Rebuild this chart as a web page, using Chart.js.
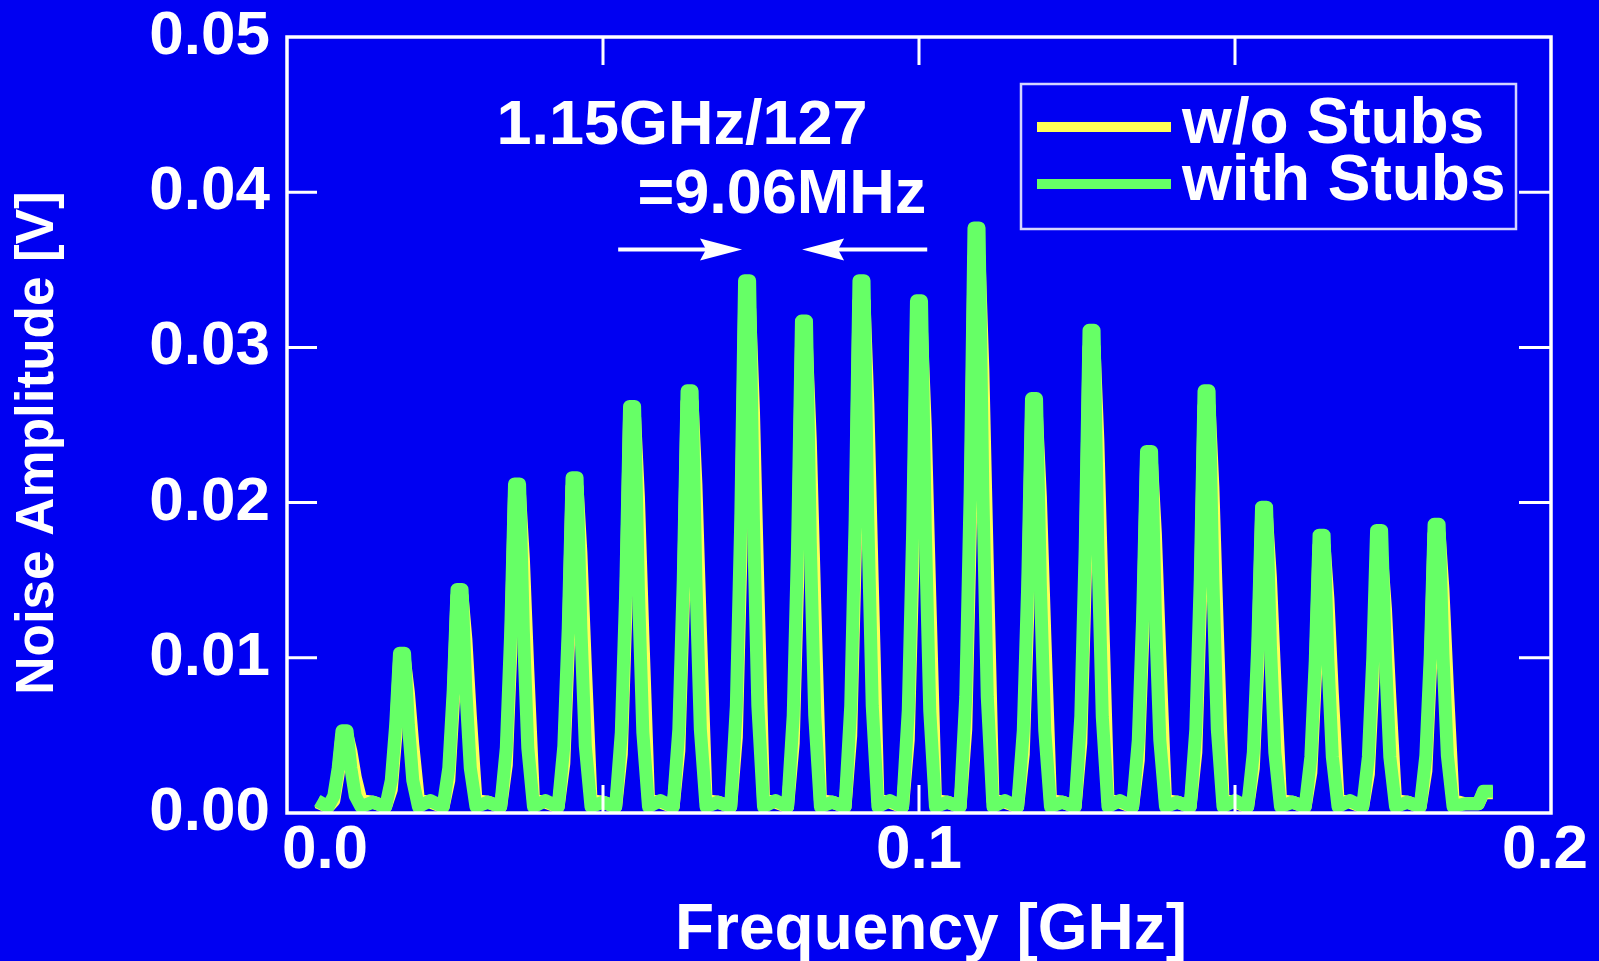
<!DOCTYPE html>
<html>
<head>
<meta charset="utf-8">
<title>Noise Amplitude</title>
<script src="https://cdn.jsdelivr.net/npm/chart.js@4.4.0/dist/chart.umd.min.js"></script>
<style>
  html, body { margin: 0; padding: 0; background: #0000f2; }
  canvas { display: block; }
</style>
</head>
<body>
<canvas id="noiseChart" width="1599" height="961"></canvas>
<script>
// frequency grid [GHz]
const freqGHz = [
  0.0048,
  0.0065, 0.0074, 0.0081, 0.0087, 0.0095, 0.0101, 0.0108, 0.0117, 0.0136,
  0.0156, 0.0165, 0.0172, 0.0178, 0.0186, 0.0192, 0.0199, 0.0208, 0.0227,
  0.0247, 0.0256, 0.0263, 0.0269, 0.0277, 0.0283, 0.0290, 0.0299, 0.0318,
  0.0338, 0.0347, 0.0354, 0.0360, 0.0368, 0.0374, 0.0381, 0.0390, 0.0409,
  0.0429, 0.0438, 0.0445, 0.0451, 0.0459, 0.0465, 0.0472, 0.0481, 0.0500,
  0.0520, 0.0529, 0.0536, 0.0542, 0.0550, 0.0556, 0.0563, 0.0572, 0.0591,
  0.0611, 0.0620, 0.0627, 0.0633, 0.0641, 0.0647, 0.0654, 0.0663, 0.0682,
  0.0702, 0.0711, 0.0718, 0.0724, 0.0732, 0.0738, 0.0745, 0.0754, 0.0773,
  0.0792, 0.0801, 0.0808, 0.0814, 0.0822, 0.0828, 0.0835, 0.0844, 0.0863,
  0.0883, 0.0892, 0.0899, 0.0905, 0.0913, 0.0919, 0.0926, 0.0935, 0.0954,
  0.0974, 0.0983, 0.0990, 0.0996, 0.1004, 0.1010, 0.1017, 0.1026, 0.1045,
  0.1065, 0.1074, 0.1081, 0.1087, 0.1095, 0.1101, 0.1108, 0.1117, 0.1136,
  0.1156, 0.1165, 0.1172, 0.1178, 0.1186, 0.1192, 0.1199, 0.1208, 0.1227,
  0.1247, 0.1256, 0.1263, 0.1269, 0.1277, 0.1283, 0.1290, 0.1299, 0.1318,
  0.1338, 0.1347, 0.1354, 0.1360, 0.1368, 0.1374, 0.1381, 0.1390, 0.1409,
  0.1429, 0.1438, 0.1445, 0.1451, 0.1459, 0.1465, 0.1472, 0.1481, 0.1500,
  0.1520, 0.1529, 0.1536, 0.1542, 0.1550, 0.1556, 0.1563, 0.1572, 0.1591,
  0.1611, 0.1620, 0.1627, 0.1633, 0.1641, 0.1647, 0.1654, 0.1663, 0.1682,
  0.1702, 0.1711, 0.1718, 0.1724, 0.1732, 0.1738, 0.1745, 0.1754, 0.1773,
  0.1793, 0.1802, 0.1809, 0.1815, 0.1823, 0.1829, 0.1836, 0.1845, 0.1864,
  0.1885, 0.1893, 0.1908
];

// noise amplitude [V] with stubs (green)
const withStubs = [
  0.0008,
  0.0004, 0.0011, 0.0029, 0.0053, 0.0053, 0.0029, 0.0011, 0.0004, 0.0007,
  0.0004, 0.0021, 0.0057, 0.0103, 0.0103, 0.0057, 0.0021, 0.0004, 0.0008,
  0.0004, 0.0029, 0.0079, 0.0144, 0.0144, 0.0079, 0.0029, 0.0004, 0.0007,
  0.0004, 0.0042, 0.0117, 0.0212, 0.0212, 0.0117, 0.0042, 0.0004, 0.0008,
  0.0004, 0.0043, 0.0119, 0.0216, 0.0216, 0.0119, 0.0043, 0.0004, 0.0007,
  0.0004, 0.0052, 0.0144, 0.0262, 0.0262, 0.0144, 0.0052, 0.0004, 0.0008,
  0.0004, 0.0054, 0.0150, 0.0272, 0.0272, 0.0150, 0.0054, 0.0004, 0.0007,
  0.0004, 0.0069, 0.0189, 0.0343, 0.0343, 0.0189, 0.0069, 0.0004, 0.0008,
  0.0004, 0.0063, 0.0174, 0.0317, 0.0317, 0.0174, 0.0063, 0.0004, 0.0007,
  0.0004, 0.0069, 0.0189, 0.0343, 0.0343, 0.0189, 0.0069, 0.0004, 0.0008,
  0.0004, 0.0066, 0.0182, 0.0330, 0.0330, 0.0182, 0.0066, 0.0004, 0.0007,
  0.0004, 0.0075, 0.0207, 0.0377, 0.0377, 0.0207, 0.0075, 0.0004, 0.0008,
  0.0004, 0.0053, 0.0147, 0.0267, 0.0267, 0.0147, 0.0053, 0.0004, 0.0007,
  0.0004, 0.0062, 0.0171, 0.0311, 0.0311, 0.0171, 0.0062, 0.0004, 0.0008,
  0.0004, 0.0047, 0.0128, 0.0233, 0.0233, 0.0128, 0.0047, 0.0004, 0.0007,
  0.0004, 0.0054, 0.0150, 0.0272, 0.0272, 0.0150, 0.0054, 0.0004, 0.0008,
  0.0004, 0.0039, 0.0108, 0.0197, 0.0197, 0.0108, 0.0039, 0.0004, 0.0007,
  0.0004, 0.0036, 0.0098, 0.0179, 0.0179, 0.0098, 0.0036, 0.0004, 0.0008,
  0.0004, 0.0036, 0.0100, 0.0182, 0.0182, 0.0100, 0.0036, 0.0004, 0.0007,
  0.0004, 0.0037, 0.0102, 0.0186, 0.0186, 0.0102, 0.0037, 0.0004, 0.0006,
  0.0006, 0.0014, 0.0014
];

// noise amplitude [V] without stubs (yellow, mostly hidden)
const woStubs = [
  0.0007,
  0.0004, 0.0008, 0.0025, 0.0050, 0.0050, 0.0040, 0.0023, 0.0008, 0.0007,
  0.0004, 0.0015, 0.0049, 0.0098, 0.0098, 0.0078, 0.0044, 0.0008, 0.0007,
  0.0004, 0.0021, 0.0070, 0.0140, 0.0140, 0.0112, 0.0063, 0.0008, 0.0007,
  0.0004, 0.0031, 0.0103, 0.0205, 0.0205, 0.0164, 0.0092, 0.0008, 0.0007,
  0.0004, 0.0032, 0.0105, 0.0210, 0.0210, 0.0168, 0.0095, 0.0008, 0.0007,
  0.0004, 0.0038, 0.0128, 0.0255, 0.0255, 0.0204, 0.0115, 0.0008, 0.0007,
  0.0004, 0.0040, 0.0133, 0.0265, 0.0265, 0.0212, 0.0119, 0.0008, 0.0007,
  0.0004, 0.0049, 0.0163, 0.0325, 0.0325, 0.0260, 0.0146, 0.0008, 0.0007,
  0.0004, 0.0045, 0.0150, 0.0300, 0.0300, 0.0240, 0.0135, 0.0008, 0.0007,
  0.0004, 0.0050, 0.0165, 0.0330, 0.0330, 0.0264, 0.0149, 0.0008, 0.0007,
  0.0004, 0.0047, 0.0155, 0.0310, 0.0310, 0.0248, 0.0140, 0.0008, 0.0007,
  0.0004, 0.0054, 0.0179, 0.0358, 0.0358, 0.0286, 0.0161, 0.0008, 0.0007,
  0.0004, 0.0038, 0.0128, 0.0255, 0.0255, 0.0204, 0.0115, 0.0008, 0.0007,
  0.0004, 0.0045, 0.0150, 0.0300, 0.0300, 0.0240, 0.0135, 0.0008, 0.0007,
  0.0004, 0.0034, 0.0113, 0.0225, 0.0225, 0.0180, 0.0101, 0.0008, 0.0007,
  0.0004, 0.0039, 0.0131, 0.0262, 0.0262, 0.0210, 0.0118, 0.0008, 0.0007,
  0.0004, 0.0029, 0.0095, 0.0190, 0.0190, 0.0152, 0.0086, 0.0008, 0.0007,
  0.0004, 0.0026, 0.0086, 0.0172, 0.0172, 0.0138, 0.0077, 0.0008, 0.0007,
  0.0004, 0.0025, 0.0083, 0.0165, 0.0165, 0.0132, 0.0074, 0.0008, 0.0007,
  0.0004, 0.0027, 0.0090, 0.0180, 0.0180, 0.0144, 0.0081, 0.0008, 0.0006,
  0.0006, 0.0013, 0.0013
];

const seriesLabels = ['w/o Stubs', 'with Stubs'];
const xTickValues = [0, 0.1, 0.2];
const xTickLabels = ['0.0', '0.1', '0.2'];
const xMinorTicks = [0.05, 0.1, 0.15];
const yTickValues = [0.01, 0.02, 0.03, 0.04];
const noteLines = ['1.15GHz/127', '=9.06MHz'];

const BG = '#0000f2';
const YELLOW = '#ffff55';
const GREEN = '#66ff66';
const FONT = '"Liberation Sans", Arial, Helvetica, sans-serif';

const toPoints = ys => freqGHz.map((f, i) => ({ x: f, y: ys[i] }));

function drawArrow(ctx, x1, x2, y) {
  const dir = Math.sign(x2 - x1);
  ctx.beginPath();
  ctx.moveTo(x1, y);
  ctx.lineTo(x2 - dir * 30, y);
  ctx.stroke();
  ctx.beginPath();
  ctx.moveTo(x2, y);
  ctx.lineTo(x2 - dir * 42, y - 11);
  ctx.lineTo(x2 - dir * 36, y);
  ctx.lineTo(x2 - dir * 42, y + 11);
  ctx.closePath();
  ctx.fill();
}

// frame, inward ticks, x labels, titles, annotation and legend box
const decorPlugin = {
  id: 'decor',
  beforeDraw(chart) {
    const ctx = chart.ctx;
    ctx.save();
    ctx.fillStyle = BG;
    ctx.fillRect(0, 0, chart.width, chart.height);
    ctx.restore();
  },
  afterDatasetsDraw(chart) {
    const { ctx, chartArea: a, scales: { x, y } } = chart;
    ctx.save();
    ctx.strokeStyle = '#ffffff';
    ctx.fillStyle = '#ffffff';

    // ticks pointing inwards
    ctx.lineWidth = 3;
    ctx.beginPath();
    xMinorTicks.forEach(v => {
      const px = x.getPixelForValue(v);
      ctx.moveTo(px, a.top); ctx.lineTo(px, a.top + 28);
      ctx.moveTo(px, a.bottom); ctx.lineTo(px, a.bottom - 28);
    });
    yTickValues.forEach(v => {
      const py = y.getPixelForValue(v);
      ctx.moveTo(a.left, py); ctx.lineTo(a.left + 30, py);
      ctx.moveTo(a.right, py); ctx.lineTo(a.right - 32, py);
    });
    ctx.stroke();

    // frame
    ctx.lineWidth = 3.5;
    ctx.strokeRect(a.left, a.top, a.right - a.left, a.bottom - a.top);

    // x tick labels (first and last nudged inside like the original)
    ctx.font = 'bold 62px ' + FONT;
    ctx.textAlign = 'center';
    ctx.textBaseline = 'middle';
    const nudge = [38, 0, -6];
    xTickValues.forEach((v, i) => {
      ctx.fillText(xTickLabels[i], x.getPixelForValue(v) + nudge[i], a.bottom + 38);
    });

    // axis titles
    ctx.font = 'bold 64px ' + FONT;
    ctx.fillText('Frequency [GHz]', (a.left + a.right) / 2 + 12, 931);
    ctx.save();
    ctx.translate(38, 443);
    ctx.rotate(-Math.PI / 2);
    ctx.font = 'bold 53px ' + FONT;
    ctx.fillText('Noise Amplitude [V]', 0, 0);
    ctx.restore();

    // 9.06 MHz annotation
    ctx.font = 'bold 63px ' + FONT;
    ctx.fillText(noteLines[0], x.getPixelForValue(0.0625), y.getPixelForValue(0.0442));
    ctx.fillText(noteLines[1], x.getPixelForValue(0.0783), y.getPixelForValue(0.0398));
    ctx.lineWidth = 4;
    const ay = y.getPixelForValue(0.0363);
    drawArrow(ctx, x.getPixelForValue(0.0524), x.getPixelForValue(0.0720), ay);
    drawArrow(ctx, x.getPixelForValue(0.1013), x.getPixelForValue(0.0815), ay);

    // legend box
    ctx.fillStyle = BG;
    ctx.fillRect(1021, 84, 495, 145);
    ctx.strokeStyle = '#d4d4ff';
    ctx.lineWidth = 2.5;
    ctx.strokeRect(1021, 84, 495, 145);
    ctx.font = 'bold 64px ' + FONT;
    const rows = [[YELLOW, 127], [GREEN, 184]];
    rows.forEach(([color, ry], i) => {
      ctx.fillStyle = color;
      ctx.fillRect(1037, ry - 5, 134, 10);
      ctx.fillStyle = '#ffffff';
      ctx.textAlign = 'left';
      ctx.fillText(seriesLabels[i], 1182, ry - 2);
    });
    ctx.restore();
  }
};

new Chart(document.getElementById('noiseChart'), {
  type: 'line',
  data: {
    datasets: [
      {
        label: seriesLabels[1],
        data: toPoints(withStubs),
        borderColor: GREEN,
        borderWidth: 13,
        borderJoinStyle: 'round',
        pointRadius: 0,
        tension: 0
      },
      {
        label: seriesLabels[0],
        data: toPoints(woStubs),
        borderColor: YELLOW,
        borderWidth: 13,
        borderJoinStyle: 'round',
        pointRadius: 0,
        tension: 0
      }
    ]
  },
  options: {
    responsive: false,
    animation: false,
    devicePixelRatio: 1,
    layout: { padding: { left: 0, top: 37, right: 48, bottom: 0 } },
    plugins: {
      legend: { display: false },
      tooltip: { enabled: false }
    },
    scales: {
      x: {
        type: 'linear',
        min: 0,
        max: 0.2,
        grid: { display: false },
        border: { display: false },
        ticks: { display: false },
        afterFit: s => { s.height = 148; }
      },
      y: {
        min: 0,
        max: 0.05,
        grid: { display: false },
        border: { display: false },
        ticks: {
          stepSize: 0.01,
          color: '#ffffff',
          padding: 9,
          font: { family: FONT, size: 62, weight: 'bold', lineHeight: 1 },
          callback: v => v.toFixed(2)
        },
        afterFit: s => {
          s.width = 287;
          s.paddingTop = 0;
          s.paddingBottom = 0;
        }
      }
    }
  },
  plugins: [decorPlugin]
});
</script>
</body>
</html>
